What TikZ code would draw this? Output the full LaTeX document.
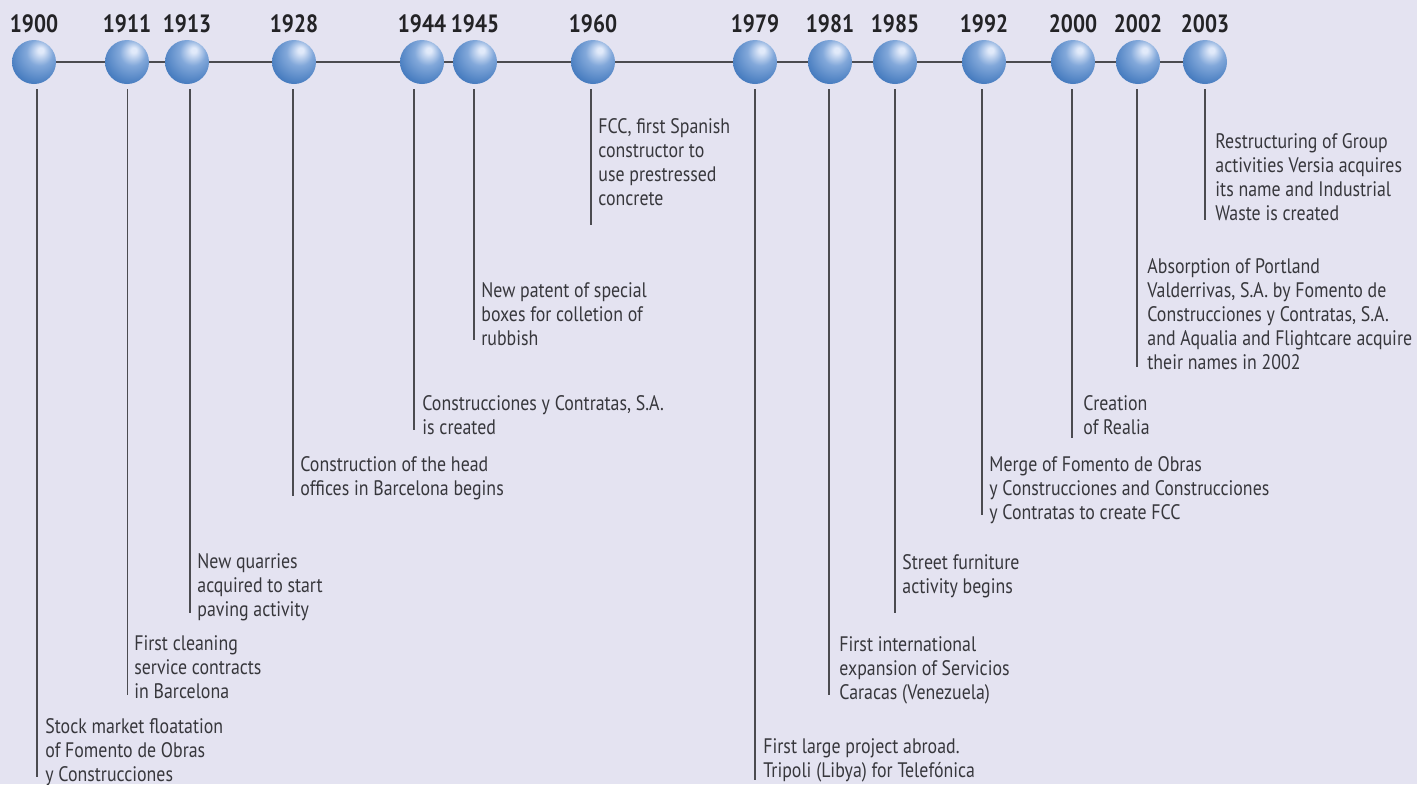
\documentclass[tikz,border=0pt]{standalone}
\usepackage{fontspec}
\setmainfont[FakeStretch=0.85]{PT Sans}
\definecolor{bgcol}{RGB}{228,227,241}
\definecolor{txtcol}{RGB}{55,55,60}
\definecolor{yearcol}{RGB}{35,35,38}
\definecolor{linecol}{RGB}{75,75,80}
\definecolor{sphHi}{RGB}{225,234,250}
\definecolor{sphLight}{RGB}{130,168,218}
\definecolor{sphMid}{RGB}{72,125,192}
\definecolor{sphEdge}{RGB}{40,100,172}
\definecolor{sphDark}{RGB}{25,84,154}
\pgfdeclareradialshading{sphereshade}{\pgfpoint{8bp}{14bp}}{color(0bp)=(sphHi); color(3bp)=(sphHi); color(15bp)=(sphLight); color(32bp)=(sphMid); color(52bp)=(sphEdge); color(70bp)=(sphDark)}
\tikzset{
  sphere/.style={circle, minimum size=22pt, inner sep=0pt, shading=sphereshade},
  yearlabel/.style={font=\bfseries\fontsize{12.5}{14}\selectfont, text=yearcol, inner sep=0pt},
  event/.style={anchor=north west, align=left, inner sep=0pt, text=txtcol, font=\fontsize{10.5}{12}\selectfont},
  tick/.style={draw=linecol, line width=0.6pt},
  axis/.style={draw=linecol, line width=0.7pt}
}
\begin{document}
\begin{tikzpicture}[x=0.5pt,y=-0.5pt]
\fill[bgcol] (0,0) rectangle (1417,784);
\useasboundingbox (0,0) rectangle (1417,784);
% spheres
\foreach \yr/\xx in {1900/34,1911/127,1913/187,1928/294,1944/422,1945/475,1960/593,1979/755,1981/830,1985/895,1992/984,2000/1073,2002/1138,2003/1205}{
  \coordinate (c\yr) at (\xx,62);
}
\draw[axis] (c1900) -- (c2003);
\foreach \yr/\xx in {1900/34,1911/127,1913/187,1928/294,1944/422,1945/475,1960/593,1979/755,1981/830,1985/895,1992/984,2000/1073,2002/1138,2003/1205}{
  \node[sphere] (s\yr) at (c\yr) {};
  \node[yearlabel] (y\yr) at (\xx,24) {\yr};
}
% ticks: year / line x / bottom
\foreach \yr/\lx/\by in {1900/37/777,1911/127.5/695,1913/190/613,1928/293/496,1944/414/430,1945/474/340,1960/591/225,1979/755/780,1981/829/695,1985/895/613,1992/982/515,2000/1072/438,2002/1137/367,2003/1205/220}{
  \coordinate (a\yr) at (\lx,89);
  \coordinate (b\yr) at (\lx,\by);
  \draw[tick] (a\yr) -- (b\yr);
}
% event texts
\node[event] (t1900) at (45,716) {\strut Stock market floatation\\of Fomento de Obras\\y Construcciones};
\node[event] (t1911) at (134,633) {\strut First cleaning\\service contracts\\in Barcelona};
\node[event] (t1913) at (197,551) {\strut New quarries\\acquired to start\\paving activity};
\node[event] (t1928) at (300,454) {\strut Construction of the head\\offices in Barcelona begins};
\node[event] (t1944) at (422,393) {\strut Construcciones y Contratas, S.A.\\is created};
\node[event] (t1945) at (481,280) {\strut New patent of special\\boxes for colletion of\\rubbish};
\node[event] (t1960) at (598,116) {\strut FCC, first Spanish\\constructor to\\use prestressed\\concrete};
\node[event] (t1979) at (763,736) {\strut First large project abroad.\\Tripoli (Libya) for Telefónica};
\node[event] (t1981) at (839,634) {\strut First international\\expansion of Servicios\\Caracas (Venezuela)};
\node[event] (t1985) at (902,552) {\strut Street furniture\\activity begins};
\node[event] (t1992) at (989,454) {\strut Merge of Fomento de Obras\\y Construcciones and Construcciones\\y Contratas to create FCC};
\node[event] (t2000) at (1083,393) {\strut Creation\\of Realia};
\node[event] (t2002) at (1147,256) {\strut Absorption of Portland\\Valderrivas, S.A. by Fomento de\\Construcciones y Contratas, S.A.\\and Aqualia and Flightcare acquire\\their names in 2002};
\node[event] (t2003) at (1215,131) {\strut Restructuring of Group\\activities Versia acquires\\its name and Industrial\\Waste is created};
\end{tikzpicture}
\end{document}
